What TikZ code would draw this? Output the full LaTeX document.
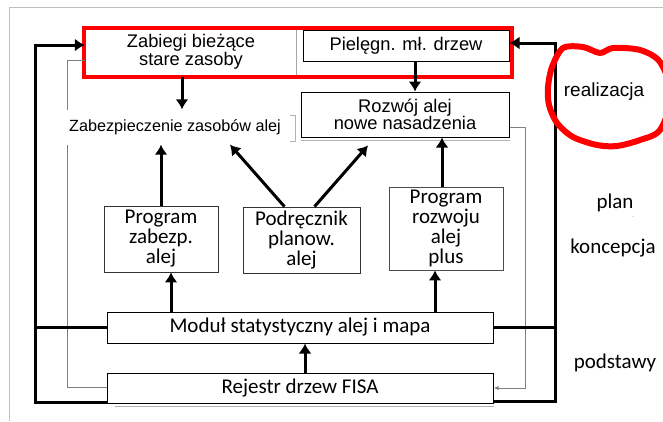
\documentclass[tikz,border=0pt]{standalone}
\usepackage{fontspec}
\setmainfont{Liberation Sans}
\newfontfamily\calibri{Carlito}
\usetikzlibrary{positioning, arrows.meta}

\begin{document}
\begin{tikzpicture}[>={Latex[length=10pt, width=13pt]}, x=1pt, y=-1pt,
    ramka/.style={draw, fill=white, align=center, inner sep=0pt, line width=1pt},
    arial/.style={font=\fontsize{18.3}{17.5}\selectfont},
    calib/.style={font=\calibri\fontsize{21}{20}\selectfont},
    gruba/.style={line width=3pt},
    cienka/.style={draw=gray, line width=0.9pt}]
    \useasboundingbox (0,0) rectangle (663,421);
    % 1. Ramka i obwiednia realizacji
    \draw[gray!50] (9,421) -- (9,7) -- (663,7);
    \draw[gray!70, line width=1pt] (296,29) -- (296,76);
    \node[arial, minimum width=212, minimum height=49, inner sep=0pt, align=center] (zabiegi) at (191,52) {Zabiegi bieżące\\stare zasoby};
    \node[ramka, arial, minimum width=206, minimum height=31] (pielegn) at (406,45.5) {Pielęgn. mł. drzew};
    \draw[red, line width=3.5pt] (84,28) rectangle (512,77);
    \node[ramka, arial, minimum width=208, minimum height=45] (rozwoj) at (405,114.5) {Rozwój alej\\nowe nasadzenia};
    \draw[gray!60] ([yshift=-2.5pt]rozwoj.south west) -- ([yshift=-2.5pt]rozwoj.south east);

    % 2. Podstawy
    \node[ramka, calib, minimum width=386, minimum height=31] (modul) at (300,327.5) {Moduł statystyczny alej i mapa};
    \node[ramka, calib, minimum width=386, minimum height=30] (rejestr) at (300,388) {Rejestr drzew FISA};
    \draw[gray!60] ([xshift=8pt, yshift=-2.5pt]rejestr.south west) -- ([yshift=-2.5pt]rejestr.south east);

    % 3. Cienkie powroty
    \draw[cienka] ([yshift=1pt]rejestr.west) -- ++(-39,0) |- ([yshift=-8pt]zabiegi.west);
    \draw[cienka, -{Latex[length=5pt, width=4pt]}] ([yshift=-12.5pt]rozwoj.east) -- ++(16,0) |- (rejestr.east);

    % 4. Koncepcja
    \node[fill=white, font=\fontsize{16.2}{16}\selectfont, inner xsep=4pt, minimum height=35] (zabezp) at (175,127) {Zabezpieczenie zasobów alej};
    \draw[gray!60, line width=0.9pt] (290,115) -- (295,115) -- (295,141) -- (290,141);
    \node[ramka, calib, draw=black!80, line width=0.8pt, minimum width=114, minimum height=66] (progzab) at (161,239) {Program\\zabezp.\\alej};
    \node[ramka, calib, draw=black!80, line width=0.8pt, minimum width=117, minimum height=66] (podrecznik) at (301.5,240) {Podręcznik\\planow.\\alej};
    \node[ramka, calib, draw=black!70, line width=0.8pt, minimum width=114, minimum height=83] (progroz) at (446,228.5) {Program\\rozwoju\\alej\\plus};

    % 5. Strzałki
    \draw[gruba, ->] ([xshift=-9pt]zabiegi.south) -- ([xshift=-9pt]zabiegi.south |- zabezp.north);
    \draw[gruba, ->] ([xshift=9pt]pielegn.south) -- ([xshift=9pt]pielegn.south |- rozwoj.north);
    \draw[gruba, ->] (progzab.north) -- (progzab.north |- zabezp.south);
    \draw[gruba, ->] ([xshift=-17pt]podrecznik.north) -- ([xshift=55pt]zabezp.south);
    \draw[gruba, ->] ([xshift=13pt]podrecznik.north) -- ([xshift=-37pt, yshift=-8pt]rozwoj.south);
    \draw[gruba, ->] ([xshift=-4pt]progroz.north) -- ([xshift=-4pt]progroz.north |- rozwoj.south);
    \draw[gruba, ->] ([xshift=10pt]progzab.south |- modul.north) -- ([xshift=10pt]progzab.south);
    \draw[gruba, ->] ([xshift=-11pt]progroz.south |- modul.north) -- ([xshift=-11pt]progroz.south);
    \draw[gruba, ->] ([xshift=5pt]rejestr.north) -- ([xshift=5pt]modul.south);

    % 6. Grube pętle
    \draw[gruba, ->] ([yshift=1.5pt]rejestr.south west) -- ++(-71,0) |- ([yshift=7pt]zabiegi.west);
    \draw[gruba] (modul.west) -- ++(-71,0);
    \draw[gruba, ->] ([yshift=2pt]rejestr.south east) -- ++(62,0) |- ([yshift=2.5pt]pielegn.east);
    \draw[gruba] (modul.east) -- ++(62,0);

    % 7. Poziomy
    \draw[red, line width=6pt] plot[smooth cycle] coordinates {(563,48) (583,47) (600,53) (613,48)
        (640,50) (660,62) (672,95) (660,130) (640,140) (617,146) (597,145) (573,137) (557,123)
        (549,105) (548,87) (552,67)};
    \node[font=\fontsize{19}{19}\selectfont] (realizacja) at (604,92) {realizacja};
    \node[calib] (plan) at (615,203) {plan};
    \node[gray, font=\tiny] (kreska) at (633,218) {-};
    \node[calib] (koncepcja) at (613,248) {koncepcja};
    \node[calib] (podstawy) at (615,363) {podstawy};
\end{tikzpicture}
\end{document}
